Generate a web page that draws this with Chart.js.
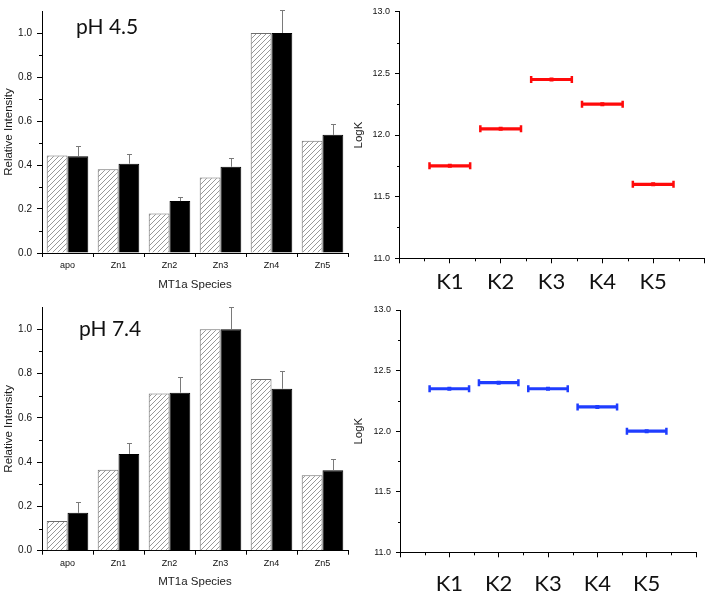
<!DOCTYPE html>
<html>
<head>
<meta charset="utf-8">
<script src="https://cdn.jsdelivr.net/npm/chart.js@4.4.0/dist/chart.umd.min.js"></script>
<style>
  html, body { margin: 0; padding: 0; background: #fff; }
  #wrap { position: relative; width: 709px; height: 596px; overflow: hidden; }
  canvas { position: absolute; }
  .ph { position: absolute; font-family: Lato, 'Open Sans', sans-serif; font-size: 21px; line-height: 21px; color: #111; white-space: nowrap; }
</style>
</head>
<body>
<div id="wrap">
  <canvas id="bar45" width="350" height="296" style="left:0;top:0"></canvas>
  <canvas id="k45" width="359" height="296" style="left:350px;top:0"></canvas>
  <canvas id="bar74" width="350" height="300" style="left:0;top:296px"></canvas>
  <canvas id="k74" width="359" height="300" style="left:350px;top:296px"></canvas>
  <div class="ph" style="left:76px;top:15px">pH 4.5</div>
  <div class="ph" style="left:79px;top:317px">pH 7.4</div>
</div>
<script>
// --------------------------------------------------------------------------
// Data
// --------------------------------------------------------------------------
const species = ['apo', 'Zn1', 'Zn2', 'Zn3', 'Zn4', 'Zn5'];

const ph45Hatched = [0.443, 0.381, 0.179, 0.343, 1.0, 0.51];
const ph45Solid = [0.44, 0.406, 0.236, 0.392, 1.0, 0.537];
const ph45SolidErr = [0.045, 0.042, 0.019, 0.041, 0.103, 0.05];

const ph74Hatched = [0.134, 0.365, 0.71, 1.0, 0.775, 0.34];
const ph74Solid = [0.171, 0.437, 0.713, 1.0, 0.731, 0.363];
const ph74SolidErr = [0.048, 0.048, 0.069, 0.101, 0.079, 0.049];

const kLabels = ['K1', 'K2', 'K3', 'K4', 'K5'];
const logK45 = [11.75, 12.05, 12.45, 12.25, 11.6];
const logK74 = [12.35, 12.4, 12.35, 12.2, 12.0];
const kHalfWidth = 0.4;

const AXIS_FONT = "'Liberation Sans', Arial, sans-serif";
const BIG_FONT = "Lato, 'Open Sans', sans-serif";

// --------------------------------------------------------------------------
// Helpers
// --------------------------------------------------------------------------
function makeHatch() {
    const c = document.createElement('canvas');
    c.width = 5; c.height = 5;
    const g = c.getContext('2d');
    g.fillStyle = '#fff';
    g.fillRect(0, 0, 5, 5);
    g.strokeStyle = '#8c8c8c';
    g.lineWidth = 0.9;
    g.beginPath();
    g.moveTo(0, 5); g.lineTo(5, 0);
    g.moveTo(-1, 1); g.lineTo(1, -1);
    g.moveTo(4, 6); g.lineTo(6, 4);
    g.stroke();
    return g.createPattern(c, 'repeat');
}

// short minor ticks between the labelled ones
function minorTicks(axisId, from, to, step, len) {
    return {
        id: 'minor_' + axisId,
        afterDraw(chart) {
            const s = chart.scales[axisId];
            const ctx = chart.ctx;
            ctx.save();
            ctx.strokeStyle = '#000';
            ctx.lineWidth = 1;
            ctx.beginPath();
            for (let v = from; v <= to + 1e-9; v += step) {
                const p = Math.round(s.getPixelForValue(v)) + 0.5;
                if (s.isHorizontal()) { ctx.moveTo(p, s.top); ctx.lineTo(p, s.top + len); }
                else { ctx.moveTo(s.right, p); ctx.lineTo(s.right - len, p); }
            }
            ctx.stroke();
            ctx.restore();
        }
    };
}

// one-sided (upward) error bars on datasets that carry an `errs` array
const errorBarPlugin = {
    id: 'errorBars',
    afterDatasetsDraw(chart) {
        const y = chart.scales.y;
        const ctx = chart.ctx;
        ctx.save();
        ctx.strokeStyle = '#7a7a7a';
        ctx.lineWidth = 1;
        chart.data.datasets.forEach((ds, di) => {
            if (!ds.errs) return;
            chart.getDatasetMeta(di).data.forEach((bar, i) => {
                const yTop = Math.round(y.getPixelForValue(ds.data[i] + ds.errs[i])) + 0.5;
                const x = Math.round(bar.x) + 0.5;
                ctx.beginPath();
                ctx.moveTo(x, bar.y);
                ctx.lineTo(x, yTop);
                ctx.moveTo(x - 2.5, yTop);
                ctx.lineTo(x + 2.5, yTop);
                ctx.stroke();
            });
        });
        ctx.restore();
    }
};

// horizontal bars with end caps for the LogK panels
const xRangePlugin = {
    id: 'xRange',
    beforeDatasetsDraw(chart) {
        const xs = chart.scales.x, ys = chart.scales.y;
        const ctx = chart.ctx;
        chart.data.datasets.forEach(ds => {
            ctx.save();
            ctx.strokeStyle = ds.borderColor;
            ds.data.forEach(pt => {
                const x1 = xs.getPixelForValue(pt.x - ds.halfWidth);
                const x2 = xs.getPixelForValue(pt.x + ds.halfWidth);
                const y = ys.getPixelForValue(pt.y);
                ctx.lineWidth = 3.2;
                ctx.beginPath();
                ctx.moveTo(x1, y); ctx.lineTo(x2, y);
                ctx.stroke();
                ctx.lineWidth = 2.5;
                ctx.beginPath();
                ctx.moveTo(x1, y - 3.5); ctx.lineTo(x1, y + 3.5);
                ctx.moveTo(x2, y - 3.5); ctx.lineTo(x2, y + 3.5);
                ctx.stroke();
            });
            ctx.restore();
        });
    }
};

const hatch = makeHatch();

// --------------------------------------------------------------------------
// Relative intensity bar charts
// --------------------------------------------------------------------------
function barChart(id, hatched, solid, errs, lay) {
    return new Chart(document.getElementById(id), {
        type: 'bar',
        data: {
            labels: species,
            datasets: [
                { data: hatched, backgroundColor: hatch, borderColor: '#6e6e6e', borderWidth: 1 },
                { data: solid, errs: errs, backgroundColor: '#000', borderColor: '#000', borderWidth: 1 }
            ]
        },
        options: {
            responsive: false,
            animation: false,
            layout: { padding: { top: lay.top, right: 2, left: 0, bottom: 0 } },
            categoryPercentage: 0.815,
            barPercentage: 1,
            plugins: { legend: { display: false }, tooltip: { enabled: false } },
            scales: {
                x: {
                    offset: true,
                    grid: { offset: true, drawOnChartArea: false, tickLength: 4, color: '#000' },
                    border: { color: '#000', width: 1 },
                    ticks: { font: { family: AXIS_FONT, size: 9 }, color: '#111', padding: 3, maxRotation: 0 },
                    title: {
                        display: true, text: 'MT1a Species', color: '#1a1a1a',
                        font: { family: AXIS_FONT, size: 11.5 },
                        padding: { top: 0, bottom: lay.titleBottom }
                    },
                    afterFit: s => { s.height = lay.xh; }
                },
                y: {
                    min: 0, max: 1.1,
                    ticks: {
                        stepSize: 0.2, color: '#111', padding: 5,
                        font: { family: AXIS_FONT, size: 10 },
                        callback: v => v.toFixed(1)
                    },
                    afterBuildTicks: s => { s.ticks = s.ticks.filter(t => t.value <= 1.0001); },
                    grid: { drawOnChartArea: false, tickLength: 5, color: '#000' },
                    border: { color: '#000', width: 1 },
                    title: {
                        display: true, text: 'Relative Intensity', color: '#1a1a1a',
                        font: { family: AXIS_FONT, size: 11.5 },
                        padding: { top: 1.5, bottom: 0 }
                    },
                    afterFit: s => { s.width = 42; }
                }
            }
        },
        plugins: [errorBarPlugin, minorTicks('y', 0.1, 0.9, 0.2, 3)]
    });
}

// --------------------------------------------------------------------------
// LogK panels
// --------------------------------------------------------------------------
function kChart(id, values, color, lay) {
    return new Chart(document.getElementById(id), {
        type: 'scatter',
        data: {
            datasets: [{
                data: values.map((v, i) => ({ x: i + 1, y: v })),
                halfWidth: kHalfWidth,
                backgroundColor: color,
                borderColor: color,
                pointStyle: 'rect',
                pointRadius: 2.8,
                pointBorderWidth: 0
            }]
        },
        options: {
            responsive: false,
            animation: false,
            layout: { padding: { top: lay.top, right: lay.right, left: 0, bottom: 0 } },
            plugins: { legend: { display: false }, tooltip: { enabled: false } },
            scales: {
                x: {
                    type: 'linear', min: 0, max: kLabels.length + 1,
                    ticks: {
                        stepSize: 1, autoSkip: false, maxRotation: 0, color: '#111',
                        padding: lay.kPad,
                        font: { family: BIG_FONT, size: 22 },
                        callback: v => kLabels[v - 1] || ''
                    },
                    grid: { drawOnChartArea: false, tickLength: 5, color: '#000' },
                    border: { color: '#000', width: 1 },
                    afterFit: s => { s.height = lay.xh; }
                },
                y: {
                    min: 11, max: 13,
                    ticks: {
                        stepSize: 0.5, color: '#111', padding: 5,
                        font: { family: AXIS_FONT, size: 9 },
                        callback: v => v.toFixed(1)
                    },
                    grid: { drawOnChartArea: false, tickLength: 4, color: '#000' },
                    border: { color: '#000', width: 1 },
                    title: {
                        display: true, text: 'LogK', color: '#1a1a1a',
                        font: { family: AXIS_FONT, size: 11.5 },
                        padding: { top: 2.4, bottom: 0 }
                    },
                    afterFit: s => { s.width = lay.yw; }
                }
            }
        },
        plugins: [xRangePlugin, minorTicks('x', 0.5, 5.5, 1, 3), minorTicks('y', 11.25, 12.75, 0.5, 2)]
    });
}

// --------------------------------------------------------------------------
// Initial Load
// --------------------------------------------------------------------------
barChart('bar45', ph45Hatched, ph45Solid, ph45SolidErr, { top: 7.7, xh: 43, titleBottom: 4.1 });
barChart('bar74', ph74Hatched, ph74Solid, ph74SolidErr, { top: 5.6, xh: 45.3, titleBottom: 7.4 });
kChart('k45', logK45, '#ff0a0a', { top: 11.7, right: 5, xh: 37.7, yw: 49, kPad: 5 });
kChart('k74', logK74, '#1f3dff', { top: 14, right: 9, xh: 43.7, yw: 50, kPad: 13 });
</script>
</body>
</html>
